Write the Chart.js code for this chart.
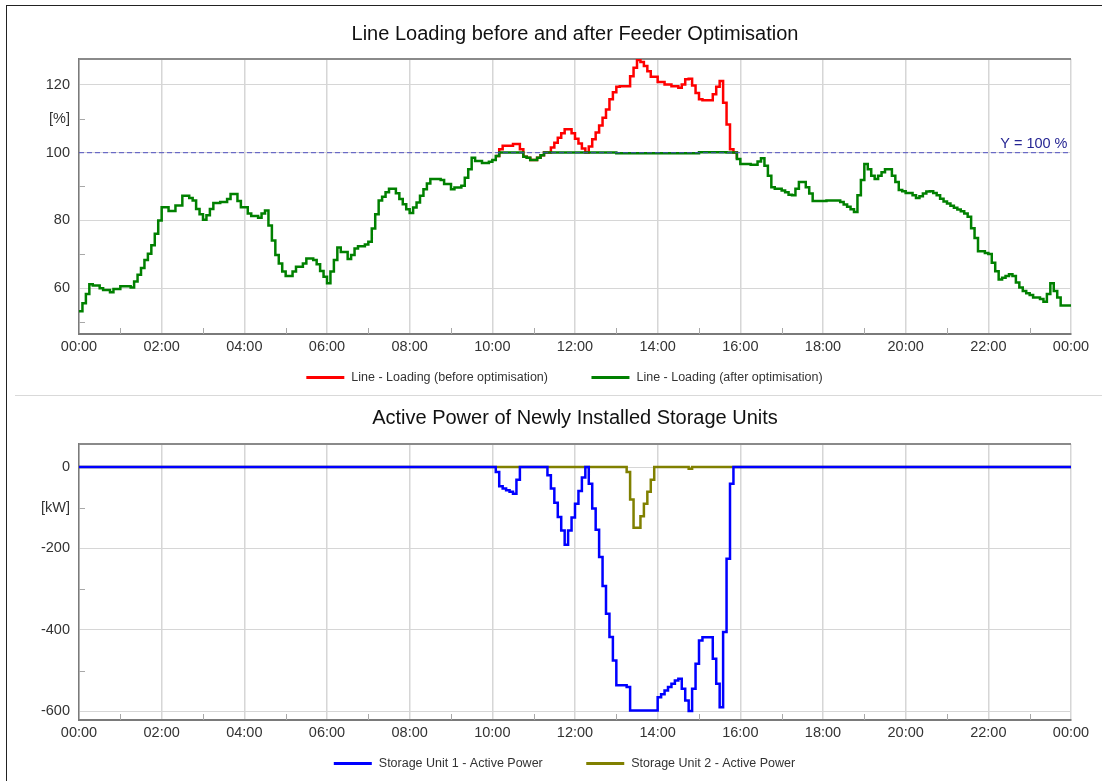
<!DOCTYPE html>
<html>
<head>
<meta charset="utf-8">
<title>Line Loading / Storage Units</title>
<script src="https://cdn.jsdelivr.net/npm/chart.js@4.4.1/dist/chart.umd.min.js"></script>
<style>
    html, body { margin: 0; padding: 0; background: #ffffff; overflow: hidden; }
    #page { position: relative; width: 1102px; height: 781px; }
    #page canvas { position: absolute; left: 0; }
    #loadingChart { top: 0; }
    #storageChart { top: 395px; }
    #frame {
        position: absolute; left: 6px; top: 5px; right: -4px; bottom: -4px;
        border-left: 1px solid #222; border-top: 1px solid #222; pointer-events: none;
    }
    #divider { position: absolute; left: 15px; right: 0; top: 395px; border-top: 1px solid #d9d9d9; }
</style>
</head>
<body>
<div id="page">
    <canvas id="loadingChart" width="1102" height="395"></canvas>
    <canvas id="storageChart" width="1102" height="386"></canvas>
    <div id="divider"></div>
    <div id="frame"></div>
</div>
<script>
// === DATA ===
// Line loading after optimisation [%]
const loadAfterTimes = [
    '00:00', '00:05', '00:10', '00:15', '00:20', '00:30', '00:35', '00:45', '00:50', '01:00',
    '01:15', '01:20', '01:25', '01:30', '01:35', '01:40', '01:45', '01:50', '01:55', '02:00',
    '02:10', '02:20', '02:30', '02:40', '02:45', '02:50', '02:55', '03:00', '03:05', '03:10',
    '03:15', '03:25', '03:35', '03:40', '03:50', '03:55', '04:05', '04:10', '04:20', '04:25',
    '04:30', '04:35', '04:40', '04:45', '04:50', '04:55', '05:00', '05:10', '05:15', '05:25',
    '05:30', '05:40', '05:45', '05:50', '05:55', '06:00', '06:05', '06:10', '06:15', '06:20',
    '06:30', '06:35', '06:40', '06:45', '06:55', '07:00', '07:05', '07:10', '07:15', '07:20',
    '07:25', '07:30', '07:40', '07:45', '07:50', '07:55', '08:00', '08:05', '08:10', '08:15',
    '08:20', '08:25', '08:30', '08:45', '08:50', '09:00', '09:05', '09:15', '09:20', '09:25',
    '09:30', '09:35', '09:45', '09:55', '10:00', '10:05', '10:10', '10:45', '10:50', '10:55',
    '11:05', '11:10', '11:15', '13:00', '15:00', '15:40', '15:55', '16:00', '16:15', '16:25',
    '16:30', '16:35', '16:40', '16:45', '16:50', '17:00', '17:05', '17:10', '17:15', '17:20',
    '17:25', '17:35', '17:40', '17:45', '18:05', '18:25', '18:30', '18:35', '18:40', '18:45',
    '18:50', '18:55', '19:00', '19:05', '19:10', '19:15', '19:20', '19:25', '19:30', '19:40',
    '19:45', '19:50', '19:55', '20:00', '20:10', '20:15', '20:20', '20:25', '20:30', '20:35',
    '20:40', '20:45', '20:50', '20:55', '21:00', '21:05', '21:10', '21:15', '21:20', '21:25',
    '21:30', '21:35', '21:40', '21:45', '21:55', '22:00', '22:05', '22:10', '22:15', '22:20',
    '22:25', '22:30', '22:35', '22:40', '22:45', '22:50', '22:55', '23:00', '23:05', '23:15',
    '23:20', '23:25', '23:30', '23:35', '23:40', '23:45', '24:00'
];
const loadAfterValues = [
    53.2, 55.6, 58.3, 61.2, 60.8, 60.0, 59.5, 58.8, 59.8, 60.6,
    60.2, 62.0, 64.0, 66.0, 68.3, 70.2, 72.7, 76.1, 80.0, 83.9,
    82.8, 84.4, 87.3, 86.6, 85.9, 83.4, 81.8, 80.2, 81.5, 83.4,
    85.1, 85.4, 86.3, 87.8, 85.7, 83.9, 82.0, 81.3, 80.8, 82.0,
    82.9, 78.5, 74.1, 69.8, 67.3, 64.9, 63.6, 64.9, 66.3, 67.3,
    68.8, 68.3, 67.1, 65.1, 63.4, 61.5, 64.9, 68.3, 72.0, 70.7,
    68.6, 69.8, 71.7, 72.4, 72.9, 73.7, 77.6, 81.8, 85.9, 87.0,
    88.3, 89.3, 88.0, 86.3, 84.8, 83.3, 82.2, 83.8, 85.3, 87.3,
    89.2, 90.9, 92.2, 91.9, 90.7, 89.2, 89.7, 90.2, 92.6, 95.1,
    98.5, 97.5, 96.9, 97.3, 97.8, 99.0, 100.0, 98.8, 98.5, 97.8,
    98.5, 99.2, 100.0, 99.8, 100.1, 100.0, 98.1, 96.6, 96.4, 97.4,
    98.3, 96.1, 93.2, 89.8, 89.3, 88.8, 88.3, 87.6, 87.4, 89.3,
    91.3, 89.8, 87.9, 85.7, 85.9, 85.4, 84.7, 84.0, 83.3, 82.5,
    87.4, 91.9, 96.6, 95.1, 93.2, 92.2, 93.2, 94.2, 95.1, 93.2,
    91.3, 89.0, 88.6, 88.1, 87.4, 86.6, 87.1, 87.9, 88.5, 88.6,
    88.1, 87.4, 86.4, 85.6, 85.0, 84.3, 83.7, 83.2, 82.7, 82.0,
    81.1, 77.7, 74.8, 70.9, 70.4, 70.1, 67.5, 65.0, 62.6, 63.1,
    63.6, 64.1, 63.6, 61.7, 60.2, 59.2, 58.5, 58.0, 57.3, 56.8,
    56.0, 58.3, 61.5, 59.2, 57.3, 54.9, 54.9
];

// Line loading before optimisation [%] (only where it leaves the "after" curve)
const loadBeforeTimes = [
    '10:05', '10:10', '10:15', '10:30', '10:40', '10:45', '10:50', '10:55', '11:05', '11:10',
    '11:15', '11:25', '11:30', '11:35', '11:40', '11:45', '11:55', '12:00', '12:05', '12:10',
    '12:15', '12:20', '12:25', '12:30', '12:35', '12:40', '12:45', '12:50', '12:55', '13:00',
    '13:05', '13:20', '13:25', '13:30', '13:35', '13:40', '13:45', '13:50', '14:00', '14:10',
    '14:20', '14:30', '14:35', '14:40', '14:45', '14:50', '14:55', '15:00', '15:05', '15:20',
    '15:25', '15:30', '15:35', '15:40', '15:45', '15:50', '15:55'
];
const loadBeforeValues = [
    99.0, 101.0, 102.0, 102.5, 101.0, 98.8, 98.5, 97.8, 98.5, 99.2,
    100.0, 101.5, 102.9, 104.4, 105.7, 106.9, 105.7, 104.1, 102.7, 101.2,
    100.0, 101.8, 103.9, 105.9, 108.0, 110.3, 112.7, 115.7, 117.8, 119.4,
    119.6, 122.5, 125.0, 127.3, 126.7, 125.5, 124.0, 122.4, 120.8, 120.1,
    119.6, 119.1, 120.1, 121.6, 121.8, 119.8, 117.6, 115.7, 115.4, 117.2,
    119.4, 121.1, 114.7, 108.3, 101.0, 100.0, 98.1
];

const loadingLimit = 100;

// Storage unit active power [kW]
const storage1Times = [
    '00:00', '10:05', '10:10', '10:15', '10:20', '10:25', '10:30', '10:35', '10:40', '11:20',
    '11:25', '11:30', '11:35', '11:40', '11:45', '11:50', '11:55', '12:00', '12:05', '12:10',
    '12:15', '12:20', '12:25', '12:30', '12:35', '12:40', '12:45', '12:50', '12:55', '13:00',
    '13:15', '13:20', '14:00', '14:05', '14:10', '14:15', '14:20', '14:25', '14:30', '14:35',
    '14:40', '14:45', '14:50', '14:55', '15:00', '15:05', '15:20', '15:25', '15:30', '15:35',
    '15:40', '15:45', '15:50', '24:00'
];
const storage1Values = [
    0, -12, -47.5, -53, -57, -61, -65.5, -31, 0, -20.5,
    -53, -87.6, -123, -155.6, -190.8, -155.6, -124, -90, -59, -26,
    0, -41, -102, -154, -221, -292, -360, -417.5, -475, -536,
    -540, -597.6, -565, -558, -548.5, -540, -532, -524, -520, -544,
    -573, -599, -544, -483, -425.7, -418, -470.7, -532, -589.5, -405,
    -225, -41, 0, 0
];
const storage2Times = [
    '00:00', '13:15', '13:20', '13:25', '13:35', '13:40', '13:45', '13:50', '13:55', '14:45',
    '14:50', '24:00'
];
const storage2Values = [
    0, -12, -80, -149, -121, -90, -61, -31, 0, -4,
    0, 0
];

// === HELPERS ===
const toMinutes = t => {
    const [h, m] = t.split(':').map(Number);
    return h * 60 + m;
};
const toPoints = (times, values) => times.map((t, i) => ({ x: toMinutes(t), y: values[i] }));
const pad2 = n => String(n).padStart(2, '0');
const clockLabel = min => pad2(Math.floor(min / 60) % 24) + ':' + pad2(min % 60);

const FONT = '"Liberation Sans", Arial, sans-serif';
const GRID = '#d6d6d6';
const NONE = 'rgba(0,0,0,0)';

// Box edge on top, short inside ticks for the minor steps
const plotFrame = {
    id: 'plotFrame',
    beforeDatasetsDraw(chart, args, opts) {
        const { ctx, chartArea: a, scales } = chart;
        ctx.save();
        ctx.strokeStyle = '#8a8a8a';
        ctx.lineWidth = 2;
        ctx.beginPath();
        ctx.moveTo(a.left, a.top);
        ctx.lineTo(a.right, a.top);
        ctx.stroke();

        ctx.strokeStyle = '#a8a8a8';
        ctx.lineWidth = 1;
        ctx.beginPath();
        scales.x.ticks.forEach(t => {
            if (t.value % opts.xMajor === 0) return;
            const x = Math.round(scales.x.getPixelForValue(t.value)) + 0.5;
            ctx.moveTo(x, a.bottom);
            ctx.lineTo(x, a.bottom - 6);
        });
        scales.y.ticks.forEach(t => {
            if (t.value % opts.yMajor === 0) return;
            const y = Math.round(scales.y.getPixelForValue(t.value)) + 0.5;
            ctx.moveTo(a.left, y);
            ctx.lineTo(a.left + 6, y);
        });
        ctx.stroke();
        ctx.restore();
    }
};

// Text over the limit line
const limitLabel = {
    id: 'limitLabel',
    afterDatasetsDraw(chart, args, opts) {
        if (!opts.text) return;
        const { ctx, chartArea: a } = chart;
        const y = chart.scales.y.getPixelForValue(opts.value);
        ctx.save();
        ctx.font = '14.5px ' + FONT;
        ctx.fillStyle = opts.color;
        ctx.textAlign = 'right';
        ctx.textBaseline = 'alphabetic';
        ctx.fillText(opts.text, a.right - 3.5, y - 4.5);
        ctx.restore();
    }
};

// Legend drawn as line samples under the axis
const lineLegend = {
    id: 'lineLegend',
    afterDraw(chart, args, opts) {
        const { ctx, chartArea: a } = chart;
        const items = chart.data.datasets.filter(d => d.label);
        ctx.save();
        ctx.font = '12.5px ' + FONT;
        const widths = items.map(d => ctx.measureText(d.label).width);
        const total = widths.reduce((s, w) => s + opts.sample + opts.textGap + w, 0) + opts.itemGap * (items.length - 1);
        let x = opts.centerX - total / 2;
        const y = a.bottom + opts.offsetY;
        items.forEach((d, i) => {
            ctx.strokeStyle = d.borderColor;
            ctx.lineWidth = 3;
            ctx.beginPath();
            ctx.moveTo(x, y);
            ctx.lineTo(x + opts.sample, y);
            ctx.stroke();
            ctx.fillStyle = '#333333';
            ctx.textAlign = 'left';
            ctx.textBaseline = 'middle';
            ctx.fillText(d.label, x + opts.sample + opts.textGap, y);
            x += opts.sample + opts.textGap + widths[i] + opts.itemGap;
        });
        ctx.restore();
    }
};

function stepLine(label, color, points, order) {
    return {
        label: label,
        data: points,
        borderColor: color,
        backgroundColor: color,
        borderWidth: 2.5,
        stepped: true,
        pointRadius: 0,
        fill: false,
        borderJoinStyle: 'miter',
        order: order
    };
}

function buildOptions(cfg) {
    return {
        responsive: false,
        animation: false,
        devicePixelRatio: 1,
        layout: { padding: { left: 0, right: 31, top: 0, bottom: 0 } },
        plugins: {
            legend: { display: false },
            tooltip: { enabled: false },
            title: {
                display: true,
                text: cfg.title,
                fullSize: false,
                color: '#111111',
                font: { family: FONT, size: 20, weight: 'normal' },
                padding: { top: cfg.titleTop, bottom: cfg.titleBottom }
            },
            plotFrame: { xMajor: 120, yMajor: cfg.yMajor },
            limitLabel: cfg.limit || {},
            lineLegend: { centerX: 564.5, offsetY: 43.5, sample: 38, textGap: 7, itemGap: 43.5 }
        },
        scales: {
            x: {
                type: 'linear',
                min: 0,
                max: 1440,
                afterFit: scale => { scale.height = 61; },
                border: { color: '#7a7a7a', width: 2 },
                grid: {
                    drawTicks: false,
                    lineWidth: 1.5,
                    color: ctx => (ctx.tick && ctx.tick.value % 120 === 0 ? GRID : NONE)
                },
                ticks: {
                    stepSize: 60,
                    maxTicksLimit: 30,
                    autoSkip: false,
                    maxRotation: 0,
                    padding: 4.5,
                    color: '#333333',
                    font: { family: FONT, size: 14.5 },
                    callback: v => (v % 120 === 0 ? clockLabel(v) : '')
                }
            },
            y: {
                min: cfg.yMin,
                max: cfg.yMax,
                afterFit: scale => { scale.width = 79; },
                border: { color: '#7a7a7a', width: 1.5 },
                grid: {
                    drawTicks: false,
                    lineWidth: 1,
                    color: ctx => (ctx.tick && ctx.tick.value % cfg.yMajor === 0 ? GRID : NONE)
                },
                ticks: {
                    stepSize: cfg.yMinor,
                    includeBounds: false,
                    padding: 9,
                    color: '#333333',
                    font: { family: FONT, size: 14.5 },
                    callback: v => (v === cfg.unitAt ? cfg.unit : (v % cfg.yMajor === 0 ? String(v) : ''))
                }
            }
        }
    };
}

// === LINE LOADING CHART ===
new Chart(document.getElementById('loadingChart'), {
    type: 'line',
    data: {
        datasets: [
            stepLine('Line - Loading (before optimisation)', '#ff0000', toPoints(loadBeforeTimes, loadBeforeValues), 2),
            stepLine('Line - Loading (after optimisation)', '#008000', toPoints(loadAfterTimes, loadAfterValues), 1),
            {
                data: [{ x: 0, y: loadingLimit }, { x: 1440, y: loadingLimit }],
                borderColor: 'rgba(70,70,190,0.75)',
                borderWidth: 1.2,
                borderDash: [5, 3],
                pointRadius: 0,
                order: 0
            }
        ]
    },
    options: buildOptions({
        title: 'Line Loading before and after Feeder Optimisation',
        titleTop: 22, titleBottom: 13,
        yMin: 46.5, yMax: 127.6, yMajor: 20, yMinor: 10,
        unit: '[%]', unitAt: 110,
        limit: { text: 'Y = ' + loadingLimit + ' %', value: loadingLimit, color: '#262693' }
    }),
    plugins: [plotFrame, limitLabel, lineLegend]
});

// === STORAGE ACTIVE POWER CHART ===
new Chart(document.getElementById('storageChart'), {
    type: 'line',
    data: {
        datasets: [
            stepLine('Storage Unit 1 - Active Power', '#0000ff', toPoints(storage1Times, storage1Values), 0),
            stepLine('Storage Unit 2 - Active Power', '#808000', toPoints(storage2Times, storage2Values), 1)
        ]
    },
    options: buildOptions({
        title: 'Active Power of Newly Installed Storage Units',
        titleTop: 11, titleBottom: 14,
        yMin: -621, yMax: 56.5, yMajor: 200, yMinor: 100,
        unit: '[kW]', unitAt: -100
    }),
    plugins: [plotFrame, limitLabel, lineLegend]
});
</script>
</body>
</html>
